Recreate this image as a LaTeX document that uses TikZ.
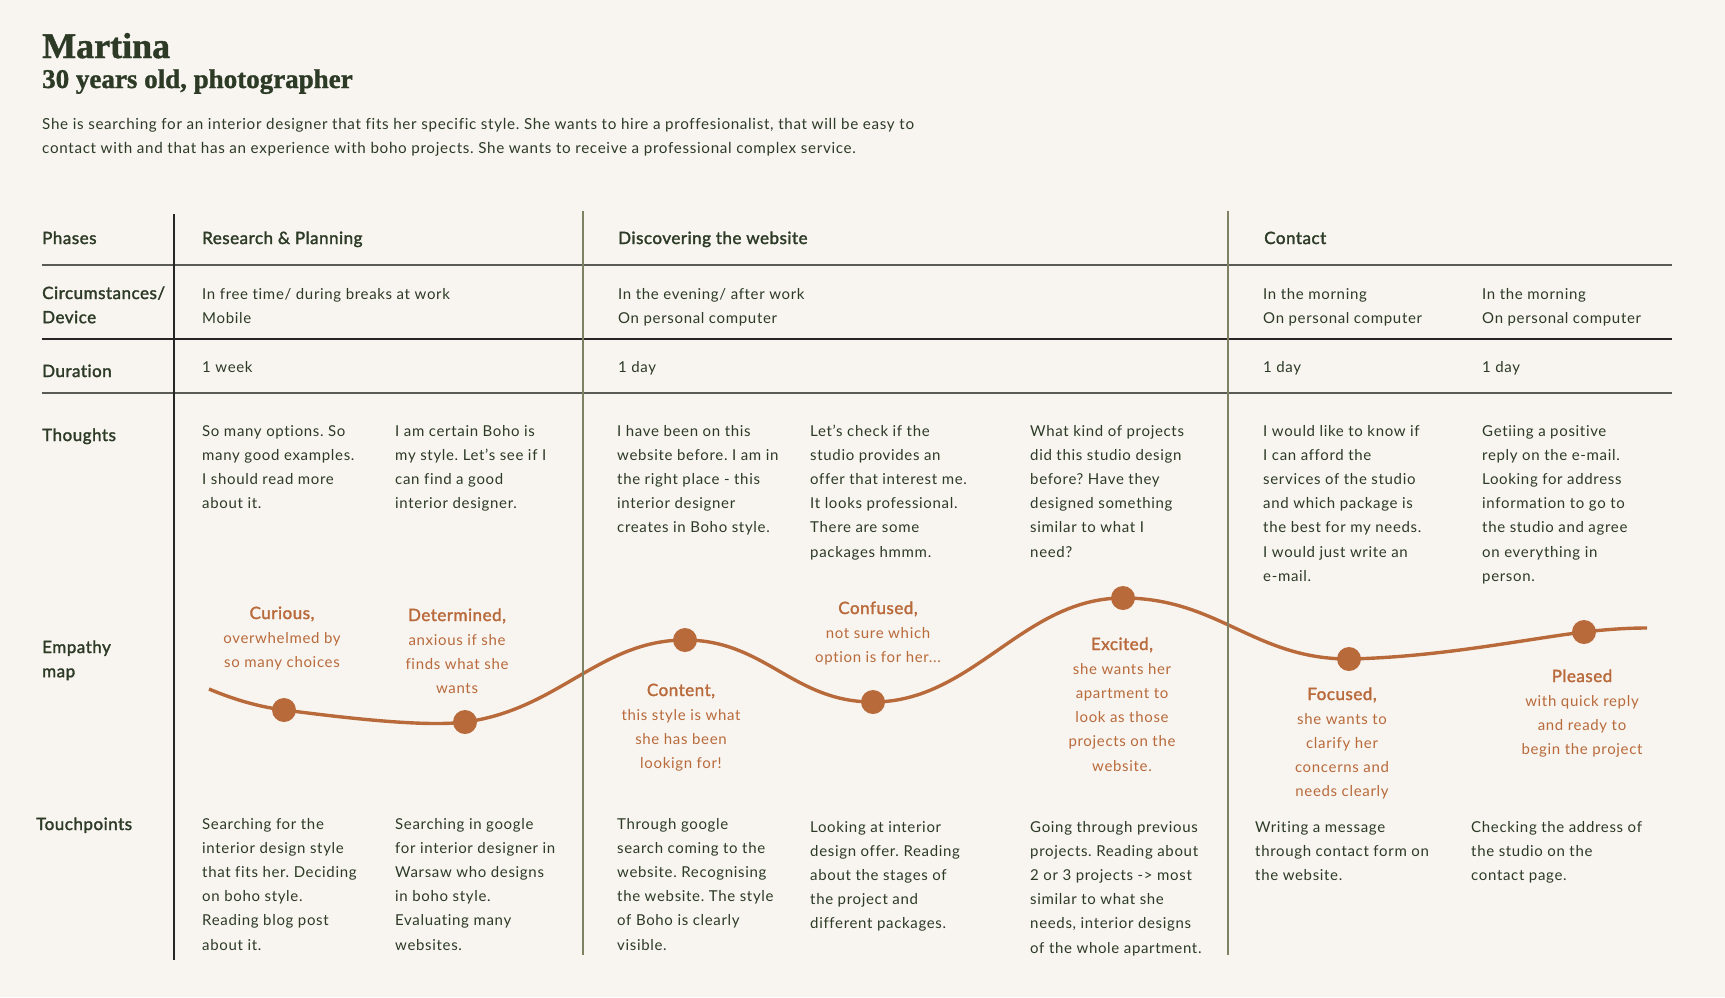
\documentclass[tikz,border=0pt]{standalone}
\usepackage{fontspec}
\usetikzlibrary{backgrounds}
\setmainfont{Lato}[LetterSpace=4.5,Ligatures=NoCommon]
\newfontfamily\headfont{Lato}[FakeBold=1.8,LetterSpace=3,Ligatures=NoCommon]
\newfontfamily\titlefont{Liberation Serif Bold}[FakeBold=1.2]
\definecolor{paper}{HTML}{F8F5F0}
\definecolor{ink}{HTML}{2C3A26}
\definecolor{rust}{HTML}{B96A3B}
\definecolor{olive}{HTML}{7D8262}
\definecolor{rulegray}{HTML}{5A5B54}
\newcommand\lblock[1]{\begin{tabular}[t]{@{}l@{}}#1\end{tabular}}
\newcommand\cblock[1]{\begin{tabular}[t]{@{}c@{}}#1\end{tabular}}
\newcommand\feelhead[1]{{\headfont\fontsize{17}{24.2}\selectfont #1}}
\frenchspacing
\tikzset{
  body/.style={font=\fontsize{15}{24.2}\selectfont, text=ink, inner sep=0pt, anchor=base west},
  rowlabel/.style={font=\headfont\fontsize{17}{24.2}\selectfont, text=ink, inner sep=0pt, anchor=base west},
  feel/.style={font=\fontsize{15}{24.2}\selectfont, text=rust, inner sep=0pt, anchor=base},
  dot/.style={circle, fill=rust, minimum size=24pt, inner sep=0pt},
  hrule/.style={line width=1.3pt, draw=rulegray},
  vrule/.style={line width=1.3pt, draw=olive},
  mood/.style={line width=3.4pt, draw=rust}
}
\begin{document}
\begin{tikzpicture}[x=1pt,y=-1pt]
\useasboundingbox (0,0) rectangle (1725,997);

% persona header
\node[anchor=base west, inner sep=0pt, text=ink, font=\titlefont\fontsize{36}{40}\selectfont] (name) at (42,58) {Martina};
\node[anchor=base west, inner sep=0pt, text=ink, font=\titlefont\fontsize{27}{30}\selectfont] (age) at (42,88) {30 years old, photographer};
\node[body, font=\fontsize{15.2}{24.2}\selectfont] (about) at (42,129) {\lblock{She is searching for an interior designer that fits her specific style. She wants to hire a proffesionalist, that will be easy to\\contact with and that has an experience with boho projects. She wants to receive a professional complex service.}};

% table grid
\draw[hrule] (42,265) -- (1672,265);
\draw[hrule, draw=black!85] (42,339) -- (1672,339);
\draw[hrule] (42,393) -- (1672,393);
\draw[vrule, draw=black!85] (174,214) -- (174,960);
\draw[vrule] (583,211) -- (583,955);
\draw[vrule] (1228,211) -- (1228,955);

% row labels
\node[rowlabel] (lphases) at (42,244) {Phases};
\node[rowlabel] (lcirc) at (42,299) {\lblock{Circumstances/\\Device}};
\node[rowlabel] (ldur) at (42,377) {Duration};
\node[rowlabel] (lthought) at (42,441) {Thoughts};
\node[rowlabel] (lemp) at (42,653) {\lblock{Empathy\\map}};
\node[rowlabel] (ltouch) at (36,830) {Touchpoints};

% phases
\node[rowlabel] (p1) at (202,244) {Research \& Planning};
\node[rowlabel] (p2) at (618,244) {Discovering the website};
\node[rowlabel] (p3) at (1264,244) {Contact};

% circumstances
\node[body] (c1) at (202,299) {\lblock{In free time/ during breaks at work\\Mobile}};
\node[body] (c2) at (618,299) {\lblock{In the evening/ after work\\On personal computer}};
\node[body] (c3) at (1263,299) {\lblock{In the morning\\On personal computer}};
\node[body] (c4) at (1482,299) {\lblock{In the morning\\On personal computer}};

% duration
\node[body] (u1) at (202,372) {1 week};
\node[body] (u2) at (618,372) {1 day};
\node[body] (u3) at (1263,372) {1 day};
\node[body] (u4) at (1482,372) {1 day};

% thoughts
\node[body] (t1) at (202,436) {\lblock{So many options. So\\many good examples.\\I should read more\\about it.}};
\node[body] (t2) at (395,436) {\lblock{I am certain Boho is\\my style. Let’s see if I\\can find a good\\interior designer.}};
\node[body] (t3) at (617,436) {\lblock{I have been on this\\website before. I am in\\the right place - this\\interior designer\\creates in Boho style.}};
\node[body] (t4) at (810,436) {\lblock{Let’s check if the\\studio provides an\\offer that interest me.\\It looks professional.\\There are some\\packages hmmm.}};
\node[body] (t5) at (1030,436) {\lblock{What kind of projects\\did this studio design\\before? Have they\\designed something\\similar to what I\\need?}};
\node[body] (t6) at (1263,436) {\lblock{I would like to know if\\I can afford the\\services of the studio\\and which package is\\the best for my needs.\\I would just write an\\e-mail.}};
\node[body] (t7) at (1482,436) {\lblock{Getiing a positive\\reply on the e-mail.\\Looking for address\\information to go to\\the studio and agree\\on everything in\\person.}};

% empathy map: the points of the journey
\coordinate (s) at (209,689);
\coordinate (e) at (1647,628);
\node[dot] (d1) at (284,710) {};
\node[dot] (d2) at (465,722) {};
\node[dot] (d3) at (685,640) {};
\node[dot] (d4) at (873,702) {};
\node[dot] (d5) at (1123,598) {};
\node[dot] (d6) at (1349,659) {};
\node[dot] (d7) at (1584,632) {};

% paper and the mood curve sit below the dots
\begin{pgfonlayer}{background}
\fill[paper] (0,0) rectangle (1725,997);
\draw[mood] (s) .. controls (235,700) and (260,707) .. (d1.center)
  .. controls (320,714.5) and (420,728) .. (d2.center)
  .. controls (558,710) and (600,640) .. (d3.center)
  .. controls (765,640) and (793,702) .. (d4.center)
  .. controls (973,702) and (1023,598) .. (d5.center)
  .. controls (1218,598) and (1254,659) .. (d6.center)
  .. controls (1440,657) and (1520,640) .. (d7.center)
  .. controls (1610,629) and (1630,628) .. (e);
\end{pgfonlayer}

% feelings
\node[feel] (f1) at (282,619) {\cblock{\feelhead{Curious,}\\overwhelmed by\\so many choices}};
\node[feel] (f2) at (457,621) {\cblock{\feelhead{Determined,}\\anxious if she\\finds what she\\wants}};
\node[feel] (f3) at (681,696) {\cblock{\feelhead{Content,}\\this style is what\\she has been\\lookign for!}};
\node[feel] (f4) at (878,614) {\cblock{\feelhead{Confused,}\\not sure which\\option is for her...}};
\node[feel] (f5) at (1122,650) {\cblock{\feelhead{Excited,}\\she wants her\\apartment to\\look as those\\projects on the\\website.}};
\node[feel] (f6) at (1342,700) {\cblock{\feelhead{Focused,}\\she wants to\\clarify her\\concerns and\\needs clearly}};
\node[feel] (f7) at (1582,682) {\cblock{\feelhead{Pleased}\\with quick reply\\and ready to\\begin the project}};

% touchpoints
\node[body] (r1) at (202,829) {\lblock{Searching for the\\interior design style\\that fits her. Deciding\\on boho style.\\Reading blog post\\about it.}};
\node[body] (r2) at (395,829) {\lblock{Searching in google\\for interior designer in\\Warsaw who designs\\in boho style.\\Evaluating many\\websites.}};
\node[body] (r3) at (617,829) {\lblock{Through google\\search coming to the\\website. Recognising\\the website. The style\\of Boho is clearly\\visible.}};
\node[body] (r4) at (810,832) {\lblock{Looking at interior\\design offer. Reading\\about the stages of\\the project and\\different packages.}};
\node[body] (r5) at (1030,832) {\lblock{Going through previous\\projects. Reading about\\2 or 3 projects -> most\\similar to what she\\needs, interior designs\\of the whole apartment.}};
\node[body] (r6) at (1255,832) {\lblock{Writing a message\\through contact form on\\the website.}};
\node[body] (r7) at (1471,832) {\lblock{Checking the address of\\the studio on the\\contact page.}};
\end{tikzpicture}
\end{document}
